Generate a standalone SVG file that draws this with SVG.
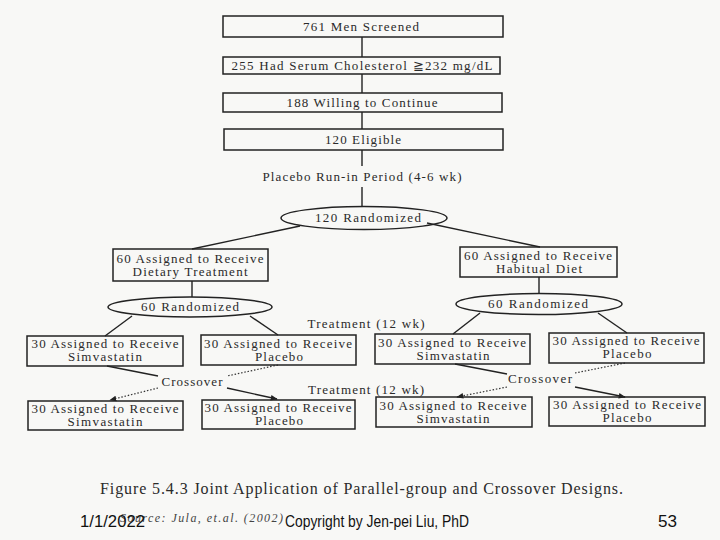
<svg xmlns="http://www.w3.org/2000/svg" width="720" height="540" viewBox="0 0 720 540">
<defs>
<style>
.box{fill:none;stroke:#222;stroke-width:1.5}
.ell{fill:none;stroke:#222;stroke-width:1.5}
.t{font-family:"Liberation Serif","Times New Roman",serif;font-size:13px;fill:#2a2a2a;text-anchor:middle}
.ln{stroke:#222;stroke-width:1.4;fill:none}
.dt{stroke:#333;stroke-width:1.2;stroke-dasharray:1.5 1.8;fill:none}
.cap{font-family:"Liberation Serif","Times New Roman",serif;font-size:16px;fill:#2a2a2a}
.src{font-family:"Liberation Serif","Times New Roman",serif;font-size:12px;font-style:italic;fill:#444}
.ft{font-family:"Liberation Sans",Arial,sans-serif;font-size:17px;fill:#111}
</style>
<marker id="ah" viewBox="0 0 10 10" refX="9" refY="5" markerWidth="7" markerHeight="7" orient="auto" markerUnits="userSpaceOnUse">
<path d="M0,1 L10,5 L0,9 z" fill="#222"/>
</marker>
</defs>
<rect width="720" height="540" fill="#f8f8f6"/>

<g id="connectors">
<line class="ln" x1="362" y1="37" x2="362" y2="57"/>
<line class="ln" x1="362" y1="74" x2="362" y2="93"/>
<line class="ln" x1="362" y1="112" x2="362" y2="129"/>
<line class="ln" x1="362" y1="150" x2="362" y2="166"/>
<line class="ln" x1="362" y1="187" x2="362" y2="207"/>
<line class="ln" x1="300" y1="226" x2="192" y2="249"/>
<line class="ln" x1="427" y1="223" x2="540" y2="247"/>
<line class="ln" x1="192" y1="281" x2="192" y2="297"/>
<line class="ln" x1="539" y1="277" x2="539" y2="294"/>
<line class="ln" x1="132" y1="316" x2="105" y2="336"/>
<line class="ln" x1="250" y1="316" x2="278" y2="335"/>
<line class="ln" x1="480" y1="313" x2="453" y2="334"/>
<line class="ln" x1="598" y1="313" x2="627" y2="333"/>
<line class="ln" x1="107" y1="366" x2="158" y2="376"/>
<line class="ln" x1="227" y1="388" x2="277" y2="399" marker-end="url(#ah)"/>
<line class="dt" x1="278" y1="365" x2="227" y2="376"/>
<line class="dt" x1="158" y1="388" x2="110" y2="400" marker-end="url(#ah)"/>
<line class="ln" x1="455" y1="364" x2="507" y2="374"/>
<line class="ln" x1="575" y1="387" x2="625" y2="397" marker-end="url(#ah)"/>
<line class="dt" x1="625" y1="363" x2="575" y2="373"/>
<line class="dt" x1="507" y1="387" x2="457" y2="397" marker-end="url(#ah)"/>
</g>

<g id="screened">
<rect class="box" x="223" y="16" width="280" height="21"/>
<text class="t" x="361" y="31" textLength="116" lengthAdjust="spacing">761 Men Screened</text>
</g>
<g id="cholesterol">
<rect class="box" x="223" y="57" width="277" height="17"/>
<text class="t" x="362" y="70" textLength="261" lengthAdjust="spacing">255 Had Serum Cholesterol ≧232 mg/dL</text>
</g>
<g id="willing">
<rect class="box" x="223" y="93" width="279" height="19"/>
<text class="t" x="362" y="107" textLength="151" lengthAdjust="spacing">188 Willing to Continue</text>
</g>
<g id="eligible">
<rect class="box" x="224" y="129" width="279" height="21"/>
<text class="t" x="363" y="144" textLength="76" lengthAdjust="spacing">120 Eligible</text>
</g>
<g id="runin">
<text class="t" x="362" y="181" textLength="199" lengthAdjust="spacing">Placebo Run-in Period (4-6 wk)</text>
</g>
<g id="rand120">
<ellipse class="ell" cx="364" cy="218" rx="83" ry="11.5"/>
<text class="t" x="368" y="222" textLength="106" lengthAdjust="spacing">120 Randomized</text>
</g>
<g id="dietary">
<rect class="box" x="113" y="249" width="155" height="32"/>
<text class="t" x="190" y="263" textLength="147" lengthAdjust="spacing">60 Assigned to Receive</text>
<text class="t" x="190" y="276" textLength="115" lengthAdjust="spacing">Dietary Treatment</text>
</g>
<g id="habitual">
<rect class="box" x="460" y="247" width="157" height="30"/>
<text class="t" x="538" y="260" textLength="148" lengthAdjust="spacing">60 Assigned to Receive</text>
<text class="t" x="539" y="273" textLength="86" lengthAdjust="spacing">Habitual Diet</text>
</g>
<g id="rand60a">
<ellipse class="ell" cx="190" cy="307" rx="82" ry="10"/>
<text class="t" x="190" y="311" textLength="98" lengthAdjust="spacing">60 Randomized</text>
</g>
<g id="rand60b">
<ellipse class="ell" cx="539" cy="304" rx="83" ry="10.5"/>
<text class="t" x="538" y="308" textLength="100" lengthAdjust="spacing">60 Randomized</text>
</g>
<g id="treat1">
<text class="t" x="366" y="328" textLength="117" lengthAdjust="spacing">Treatment (12 wk)</text>
</g>
<g id="treat2">
<text class="t" x="366" y="394" textLength="116" lengthAdjust="spacing">Treatment (12 wk)</text>
</g>
<g id="a1simva">
<rect class="box" x="27" y="336" width="156" height="30"/>
<text class="t" x="105" y="348" textLength="147" lengthAdjust="spacing">30 Assigned to Receive</text>
<text class="t" x="105" y="361" textLength="74" lengthAdjust="spacing">Simvastatin</text>
</g>
<g id="a1plac">
<rect class="box" x="201" y="335" width="155" height="30"/>
<text class="t" x="278" y="348" textLength="148" lengthAdjust="spacing">30 Assigned to Receive</text>
<text class="t" x="279" y="361" textLength="48" lengthAdjust="spacing">Placebo</text>
</g>
<g id="b1simva">
<rect class="box" x="375" y="334" width="155" height="30"/>
<text class="t" x="452" y="347" textLength="148" lengthAdjust="spacing">30 Assigned to Receive</text>
<text class="t" x="453" y="360" textLength="73" lengthAdjust="spacing">Simvastatin</text>
</g>
<g id="b1plac">
<rect class="box" x="549" y="333" width="155" height="30"/>
<text class="t" x="626" y="345" textLength="147" lengthAdjust="spacing">30 Assigned to Receive</text>
<text class="t" x="627" y="358" textLength="49" lengthAdjust="spacing">Placebo</text>
</g>
<g id="crossA">
<text class="t" x="192" y="386" textLength="61" lengthAdjust="spacing">Crossover</text>
</g>
<g id="crossB">
<text class="t" x="540" y="383" textLength="64" lengthAdjust="spacing">Crossover</text>
</g>
<g id="a2simva">
<rect class="box" x="28" y="401" width="155" height="29"/>
<text class="t" x="105" y="413" textLength="147" lengthAdjust="spacing">30 Assigned to Receive</text>
<text class="t" x="105" y="426" textLength="75" lengthAdjust="spacing">Simvastatin</text>
</g>
<g id="a2plac">
<rect class="box" x="202" y="400" width="153" height="29"/>
<text class="t" x="278" y="412" textLength="147" lengthAdjust="spacing">30 Assigned to Receive</text>
<text class="t" x="279" y="425" textLength="48" lengthAdjust="spacing">Placebo</text>
</g>
<g id="b2simva">
<rect class="box" x="376" y="397" width="156" height="30"/>
<text class="t" x="453" y="410" textLength="147" lengthAdjust="spacing">30 Assigned to Receive</text>
<text class="t" x="453" y="423" textLength="73" lengthAdjust="spacing">Simvastatin</text>
</g>
<g id="b2plac">
<rect class="box" x="549" y="397" width="156" height="29"/>
<text class="t" x="627" y="409" textLength="148" lengthAdjust="spacing">30 Assigned to Receive</text>
<text class="t" x="627" y="422" textLength="49" lengthAdjust="spacing">Placebo</text>
</g>

<g id="caption">
<text class="cap" x="100" y="494" textLength="523" lengthAdjust="spacing">Figure 5.4.3 Joint Application of Parallel-group and Crossover Designs.</text>
<text class="src" x="120" y="522" textLength="163" lengthAdjust="spacing">Source: Jula, et.al. (2002)</text>
</g>
<g id="footer">
<text class="ft" x="80" y="527" textLength="65" lengthAdjust="spacingAndGlyphs">1/1/2022</text>
<text class="ft" x="285" y="527" textLength="184" lengthAdjust="spacingAndGlyphs">Copyright by Jen-pei Liu, PhD</text>
<text class="ft" x="658" y="527" textLength="19" lengthAdjust="spacingAndGlyphs">53</text>
</g>
</svg>
